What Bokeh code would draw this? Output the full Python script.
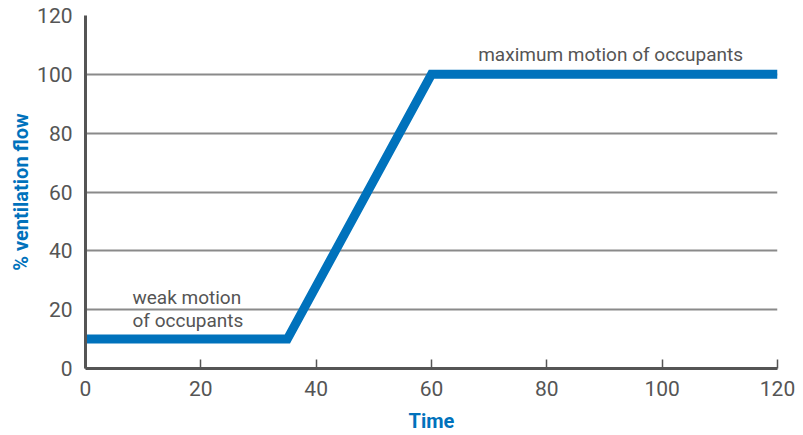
from bokeh.plotting import figure
from bokeh.models import Label, FixedTicker, Range1d
from bokeh.embed import file_html
from bokeh.resources import INLINE

time = [0, 35, 60, 120]
flow = [10, 10, 100, 100]
x_ticks = [0, 20, 40, 60, 80, 100, 120]
y_ticks = [0, 20, 40, 60, 80, 100, 120]
notes = ["maximum motion of occupants", "weak motion", "of occupants"]
note_x = [68.1, 8.15, 8.15]
note_y = [106.8, 24.1, 16.3]

BLUE = "#0072BC"
GREY = "#555555"
FONT = "Roboto"

p = figure(width=803, height=435, output_backend="svg", toolbar_location=None,
           x_range=Range1d(0, 120), y_range=Range1d(0, 120),
           min_border_left=85, min_border_right=26, min_border_top=15, min_border_bottom=67)
p.outline_line_color = None
p.background_fill_color = "white"
p.border_fill_color = "white"

p.line(time, flow, line_color=BLUE, line_width=9, line_cap="butt", line_join="miter")

p.xaxis.ticker = FixedTicker(ticks=x_ticks)
p.yaxis.ticker = FixedTicker(ticks=y_ticks)
p.xgrid.grid_line_color = None
p.ygrid.grid_line_color = "#8a8a8a"
p.ygrid.grid_line_width = 2

for ax in (p.xaxis[0], p.yaxis[0]):
    ax.axis_line_color = GREY
    ax.axis_line_width = 3
    ax.minor_tick_line_color = None
    ax.major_label_text_font = FONT
    ax.major_label_text_font_size = "21px"
    ax.major_label_text_color = GREY
    ax.axis_label_text_font = FONT
    ax.axis_label_text_font_size = "20px"
    ax.axis_label_text_font_style = "bold"
    ax.axis_label_text_color = BLUE

p.xaxis.major_tick_in = 9
p.xaxis.major_tick_out = 0
p.xaxis.major_tick_line_color = GREY
p.xaxis.major_tick_line_width = 1.5
p.xaxis.major_label_standoff = 12
p.xaxis.axis_label = "Time"
p.xaxis.axis_label_standoff = 10

p.yaxis.major_tick_line_color = None
p.yaxis.major_tick_in = 0
p.yaxis.major_tick_out = 0
p.yaxis.major_label_standoff = 13
p.yaxis.axis_label = "% ventilation flow"
p.yaxis.axis_label_standoff = 1

for t, x, y in zip(notes, note_x, note_y):
    p.add_layout(Label(x=x, y=y, text=t, text_font=FONT, text_font_size="19px",
                       text_color=GREY, text_baseline="alphabetic", text_align="left"))

open("out.html", "w").write(file_html(p, INLINE))
